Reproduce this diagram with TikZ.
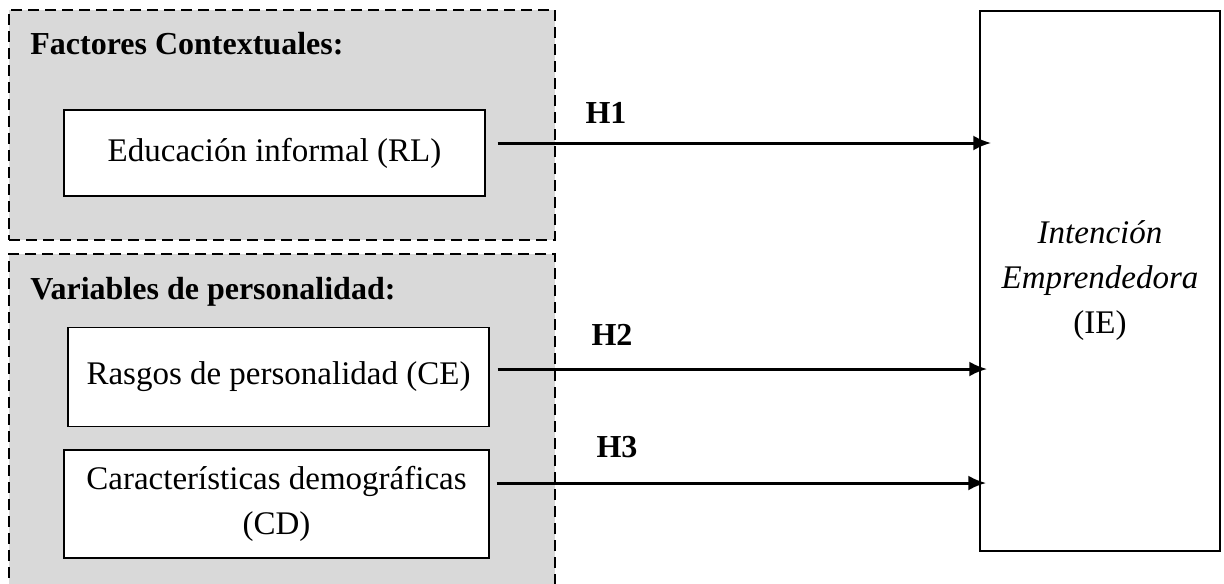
\documentclass[tikz,border=0pt]{standalone}
\usepackage{fontspec}
\setmainfont{Liberation Serif}
\usetikzlibrary{arrows.meta,positioning}

\definecolor{gris}{RGB}{217,217,217}
\tikzset{
  grupo/.style={draw, dash pattern=on 5.5pt off 3pt, line width=0.9pt, fill=gris, inner sep=0pt},
  caja/.style={draw, line width=0.7pt, fill=white, align=center, inner sep=0pt,
    font=\fontsize{16.5}{22.5}\selectfont},
  titulo/.style={anchor=base west, inner sep=0pt, font=\fontsize{16}{19}\selectfont\bfseries},
  hlab/.style={anchor=base, inner sep=0pt, font=\fontsize{16}{19}\selectfont\bfseries},
  hip/.style={-{Latex[length=9pt,width=7.5pt]}, line width=1.5pt},
}

\begin{document}
\begin{tikzpicture}[x=0.5pt, y=-0.5pt]
    \useasboundingbox (0,0) rectangle (1224,583);
    \clip (0,0) rectangle (1224,583);
    % grupos
    \node[grupo, minimum width=273pt, minimum height=115pt] (ctx) at (282,125) {};
    \node[grupo, minimum width=273pt, minimum height=173pt] (pers) at (282,427) {};
    \node[titulo] (tctx) at (30,55) {Factores Contextuales:};
    \node[titulo] (tpers) at (30,299) {Variables de personalidad:};
    % variables
    \node[caja, minimum width=210.5pt, minimum height=43pt] (rl) at (274.5,153) {Educación informal (RL)};
    \node[caja, minimum width=210.5pt, minimum height=49.5pt] (ce) at (278.5,377) {Rasgos de personalidad (CE)};
    \node[caja, minimum width=212.5pt, minimum height=54pt] (cd) at (276.5,504) {Características demográficas\\(CD)};
    \node[caja, minimum width=120pt, minimum height=270pt] (ie) at (1100,281) {\textit{Intención}\\\textit{Emprendedora}\\(IE)};
    % hipotesis
    \draw[hip] ([xshift=6pt,yshift=5pt]rl.east) -- ([xshift=6pt,yshift=5pt]rl.east -| ie.west);
    \draw[hip] ([xshift=4pt,yshift=4pt]ce.east) -- ([xshift=4pt,yshift=4pt]ce.east -| ie.west);
    \draw[hip] ([xshift=3.5pt,yshift=10.5pt]cd.east) -- ([xshift=3.5pt,yshift=10.5pt]cd.east -| ie.west);
    \node[hlab] (h1) at (606,124) {H1};
    \node[hlab] (h2) at (612,345) {H2};
    \node[hlab] (h3) at (617,457) {H3};
\end{tikzpicture}
\end{document}
